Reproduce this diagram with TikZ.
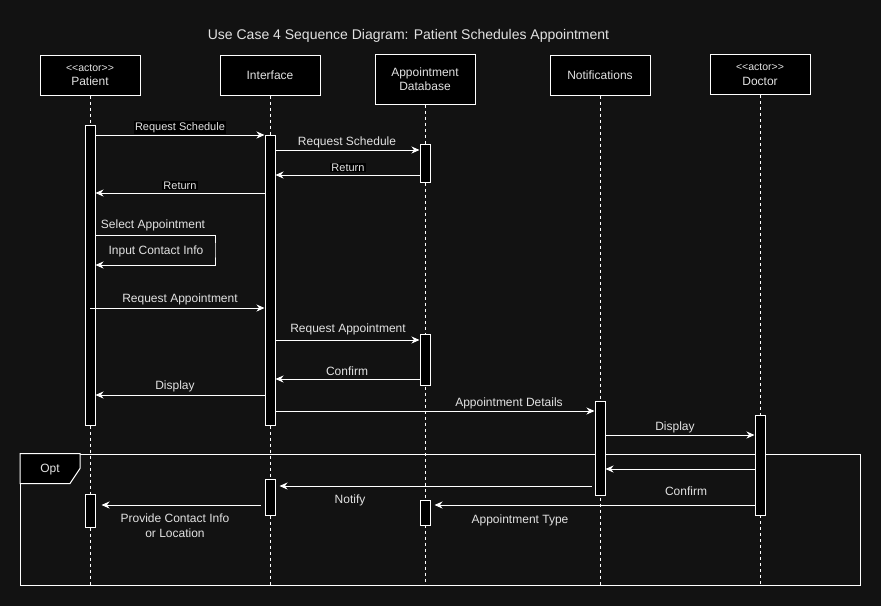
\documentclass[tikz,border=0pt]{standalone}
\usepackage{fontspec}
\setmainfont{Liberation Sans}
\usetikzlibrary{arrows.meta,calc}
\definecolor{bg}{HTML}{121212}
\definecolor{txt}{HTML}{E2E2E2}
\newcommand\stereotxt{{\fontsize{10.5}{12}\selectfont <\kern0pt<actor>\kern0pt>}}
\begin{document}
\begin{tikzpicture}[x=1pt,y=-1pt,
  head/.style={draw=white, fill=black, line width=1pt, minimum width=100pt, minimum height=40pt, text=txt, font=\fontsize{12}{14.5}\selectfont, align=center, inner sep=0pt},
  bar/.style={draw=white, fill=black, line width=1pt, minimum width=10pt, inner sep=0pt},
  life/.style={white, line width=0.8pt, dash pattern=on 3pt off 3pt},
  msg/.style={white, line width=1pt, -{Stealth[length=8pt,width=7pt,inset=2.5pt]}},
  lbl/.style={text=txt, font=\fontsize{12}{15}\selectfont, inner sep=1pt, align=center, yshift=-1pt},
  slbl/.style={text=txt, font=\fontsize{11}{13}\selectfont, inner sep=1pt, yshift=-1.5pt},
  bgl/.style={fill=black}
]
\fill[bg] (0,0) rectangle (881,606);
\useasboundingbox (0,0) rectangle (881,606);

% title
\node[text=txt, font=\fontsize{14}{16}\selectfont] (title) at (408.5,35.5) {Use Case 4 Sequence Diagram: Patient Schedules Appointment};

% opt frame
\node[draw=white, line width=1pt, minimum width=840pt, minimum height=131pt, inner sep=0pt] (opt) at (440.5,519.5) {};
\draw[white, fill=black, line width=1pt] (opt.north west) -- ++(60,0) -- ++(0,15) -- ++(-10,15) -- ++(-50,0) -- cycle;
\node[lbl] (optl) at (50,469) {Opt};

% heads
\node[head] (patient) at (90,75) {\stereotxt\\Patient};
\node[head] (iface) at (270,75) {Interface};
\node[head, minimum height=50pt] (db) at (425,79) {Appointment\\Database};
\node[head] (notif) at (600,75) {Notifications};
\node[head] (doctor) at (760,74.5) {\stereotxt\\Doctor};

% lifeline ends
\coordinate (pend) at (90,585);
\coordinate (iend) at (270,585);
\coordinate (dend) at (425,585);
\coordinate (nend) at (600,585);
\coordinate (docend) at (760,585);
\draw[life] (patient.south) -- (pend);
\draw[life] (iface.south) -- (iend);
\draw[life] (db.south) -- (dend);
\draw[life] (notif.south) -- (nend);
\draw[life] (doctor.south) -- (docend);

% activation bars
\node[bar, minimum height=300pt] (pa1) at (90,275) {};
\node[bar, minimum height=290pt] (if1) at (270,280) {};
\node[bar, minimum height=38pt] (db1) at (425,163) {};
\node[bar, minimum height=51pt] (db2) at (425,360) {};
\node[bar, minimum height=94pt] (nb) at (600,448) {};
\node[bar, minimum height=100pt] (docb) at (760,465) {};
\node[bar, minimum height=33pt] (pa2) at (90,511) {};
\node[bar, minimum height=36pt] (if2) at (270,497.5) {};
\node[bar, minimum height=25pt] (db3) at (425,513) {};

% messages
\draw[msg] (pa1.east |- 0,135) -- (if1.west |- 0,135);
\node[slbl, bgl] (m1) at (180,126) {Request Schedule};

\draw[msg] (if1.east |- 0,150) -- (db1.west |- 0,150);
\node[lbl] (m2) at (347,141) {Request Schedule};

\draw[msg] (db1.west |- 0,175) -- (if1.east |- 0,175);
\node[slbl, bgl] (m3) at (348,166) {Return};

\draw[msg] (if1.west |- 0,193) -- (pa1.east |- 0,193);
\node[slbl, bgl] (m4) at (180,184) {Return};

\coordinate (selfc) at (215,250);
\draw[msg] (pa1.east |- 0,235) -| (selfc) |- (pa1.east |- 0,265);
\node[lbl] (m5) at (153,224) {Select Appointment};
\node[lbl] (m6) at (156,250) {Input Contact Info};

\draw[msg] (pa1.center |- 0,308) -- (if1.west |- 0,308);
\node[lbl] (m7) at (180,298) {Request Appointment};

\draw[msg] (if1.east |- 0,340) -- (db2.west |- 0,340);
\node[lbl] (m8) at (348,328) {Request Appointment};

\draw[msg] (db2.west |- 0,379) -- (if1.east |- 0,379);
\node[lbl] (m9) at (347,370) {Confirm};

\draw[msg] (if1.west |- 0,395) -- (pa1.east |- 0,395);
\node[lbl] (m10) at (175,385) {Display};

\draw[msg] (if1.east |- 0,411) -- (nb.west |- 0,411);
\node[lbl] (m11) at (509,402) {Appointment Details};

\draw[msg] (nb.east |- 0,435) -- (docb.west |- 0,435);
\node[lbl] (m12) at (675,426) {Display};

\draw[msg] (docb.west |- 0,469) -- (nb.east |- 0,469);

\draw[msg, shorten <=3pt, shorten >=4pt] (nb.west |- 0,486) -- (if2.east |- 0,486);
\node[lbl] (m13) at (350,499) {Notify};

\draw[msg, shorten >=4pt] (docb.west |- 0,505) -- (db3.east |- 0,505);
\node[lbl] (m14) at (686,490) {Confirm};
\node[lbl] (m15) at (520,519) {Appointment Type};

\draw[msg, shorten <=4pt, shorten >=6pt] (if2.west |- 0,505) -- (pa2.east |- 0,505);
\node[lbl] (m16) at (175,525) {Provide Contact Info\\or Location};
\end{tikzpicture}
\end{document}
